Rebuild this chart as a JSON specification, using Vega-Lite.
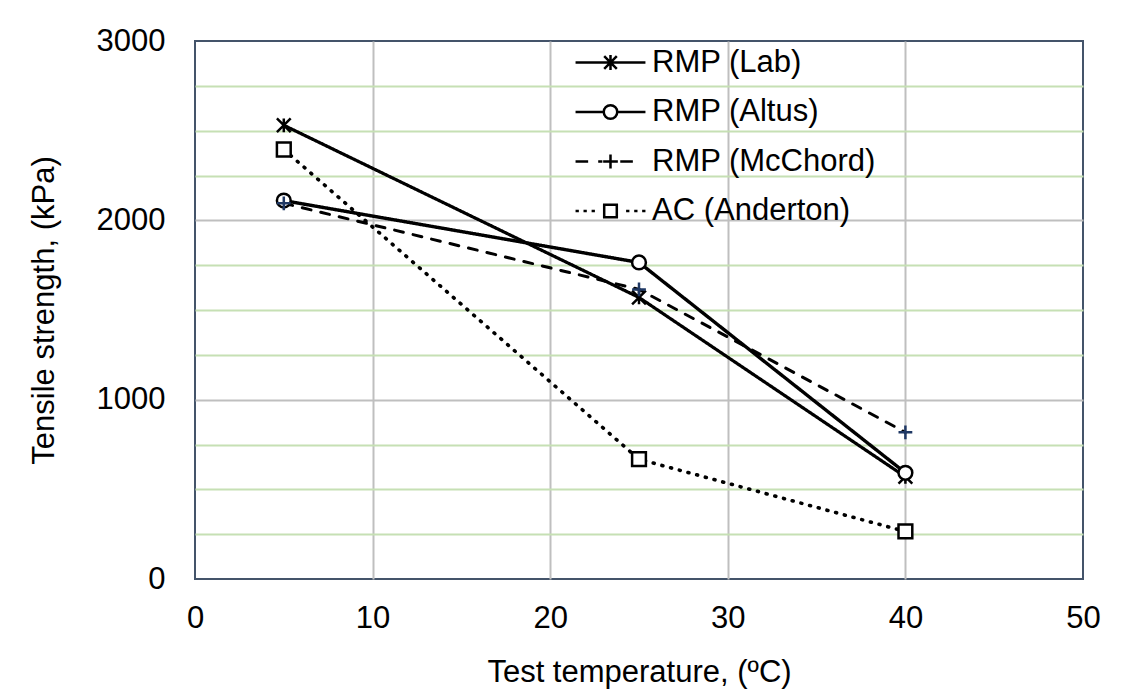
{
  "$schema": "https://vega.github.io/schema/vega-lite/v6.json",
  "width": 888,
  "height": 538,
  "autosize": {"type": "none"},
  "padding": {"left": 195, "top": 41, "right": 38, "bottom": 118},
  "background": "white",
  "config": {"font": "Liberation Sans", "view": {"stroke": "#44546a", "strokeWidth": 2}},
  "data": {
    "values": [
      {"series": "RMP (Lab)", "temp": 5, "strength": 2530},
      {"series": "RMP (Lab)", "temp": 25, "strength": 1570},
      {"series": "RMP (Lab)", "temp": 40, "strength": 570},
      {"series": "RMP (Altus)", "temp": 5, "strength": 2110},
      {"series": "RMP (Altus)", "temp": 25, "strength": 1765},
      {"series": "RMP (Altus)", "temp": 40, "strength": 592},
      {"series": "RMP (McChord)", "temp": 5, "strength": 2095},
      {"series": "RMP (McChord)", "temp": 25, "strength": 1615},
      {"series": "RMP (McChord)", "temp": 40, "strength": 818},
      {"series": "AC (Anderton)", "temp": 5, "strength": 2395},
      {"series": "AC (Anderton)", "temp": 25, "strength": 668},
      {"series": "AC (Anderton)", "temp": 40, "strength": 265}
    ]
  },
  "encoding": {
    "x": {
      "field": "temp", "type": "quantitative",
      "scale": {"domain": [0, 50], "nice": false},
      "axis": {
        "values": [0, 10, 20, 30, 40, 50],
        "title": "Test temperature, (ºC)",
        "ticks": false, "domain": false, "labelFlush": false, "labelOverlap": false,
        "labelFontSize": 31, "labelColor": "black", "labelPadding": 24,
        "titleFontSize": 31, "titleFontWeight": "normal", "titleColor": "black", "titlePadding": 24,
        "gridColor": "#bfbfbf", "gridWidth": 2,
        "gridOpacity": {"condition": {"test": "datum.value === 0 || datum.value === 50", "value": 0}, "value": 1}
      }
    },
    "y": {
      "field": "strength", "type": "quantitative",
      "scale": {"domain": [0, 3000], "nice": false},
      "axis": {
        "values": [0, 250, 500, 750, 1000, 1250, 1500, 1750, 2000, 2250, 2500, 2750, 3000],
        "format": "d",
        "labelExpr": "datum.value % 1000 === 0 ? datum.label : ''",
        "title": "Tensile strength, (kPa)",
        "ticks": false, "domain": false, "labelFlush": false, "labelOverlap": false,
        "labelFontSize": 31, "labelColor": "black", "labelPadding": 30,
        "titleFontSize": 31, "titleFontWeight": "normal", "titleColor": "black", "titlePadding": 36,
        "gridColor": {"condition": {"test": "datum.value % 1000 === 0", "value": "#bfbfbf"}, "value": "#c6e0b4"},
        "gridWidth": 2,
        "gridOpacity": {"condition": {"test": "datum.value === 0 || datum.value === 3000", "value": 0}, "value": 1}
      }
    }
  },
  "layer": [
    {
      "mark": {"type": "line", "strokeCap": "round"},
      "encoding": {
        "strokeDash": {
          "field": "series", "type": "nominal",
          "scale": {"range": [[1, 8], [1, 0], [1, 0], [9, 10]]},
          "legend": null
        },
        "strokeWidth": {
          "field": "series", "type": "nominal",
          "scale": {"range": [3.6, 3, 3, 3]},
          "legend": null
        },
        "color": {
          "field": "series", "type": "nominal",
          "scale": {
            "domain": ["RMP (Lab)", "RMP (Altus)", "RMP (McChord)", "AC (Anderton)"],
            "range": ["black", "black", "black", "black"]
          },
          "legend": {
            "title": null, "orient": "none", "legendX": 399, "legendY": 5, "padding": 0,
            "symbolSize": 900, "symbolStrokeWidth": 2.5,
            "labelFontSize": 31, "labelColor": "black", "labelOffset": 25, "labelLimit": 500,
            "rowPadding": 17.5,
            "encode": {
              "symbols": {
                "update": {
                  "shape": {"signal": "datum.value === 'RMP (Lab)' ? 'M-2.33,0H2.33M-0.42,-0.42L0.42,0.42M-0.42,0.42L0.42,-0.42M0,-0.5V0.5' : datum.value === 'RMP (Altus)' ? 'M-2.33,0H-0.45M0.45,0H2.33M-0.45,0A0.45,0.45 0 1,0 0.45,0A0.45,0.45 0 1,0 -0.45,0' : datum.value === 'RMP (McChord)' ? 'M-2.33,0H-1.49M-0.82,0H-0.54M-0.49,0H0.49M0,-0.47V0.47M0.65,0H1.49' : 'M-2.33,0H-2.11M-1.8,0H-1.58M-1.26,0H-1.04M-0.42,-0.42H0.42V0.42H-0.42ZM1.04,0H1.26M1.58,0H1.8M2.11,0H2.33'"},
                  "fill": {"signal": "datum.value === 'RMP (Altus)' || datum.value === 'AC (Anderton)' ? 'white' : 'transparent'"},
                  "stroke": {"value": "black"}
                }
              }
            }
          }
        }
      }
    },
    {
      "mark": {"type": "point", "strokeWidth": 2.5, "opacity": 1, "size": 190},
      "encoding": {
        "shape": {
          "field": "series", "type": "nominal",
          "scale": {"range": ["square", "circle", "M-1,-1L1,1M-1,1L1,-1M0,-1V1", "M-1,0H1M0,-1V1"]},
          "legend": null
        },
        "fill": {
          "field": "series", "type": "nominal",
          "scale": {"range": ["white", "white", "transparent", "transparent"]},
          "legend": null
        },
        "stroke": {
          "field": "series", "type": "nominal",
          "scale": {"range": ["black", "black", "black", "#1f3864"]},
          "legend": null
        }
      }
    }
  ]
}
